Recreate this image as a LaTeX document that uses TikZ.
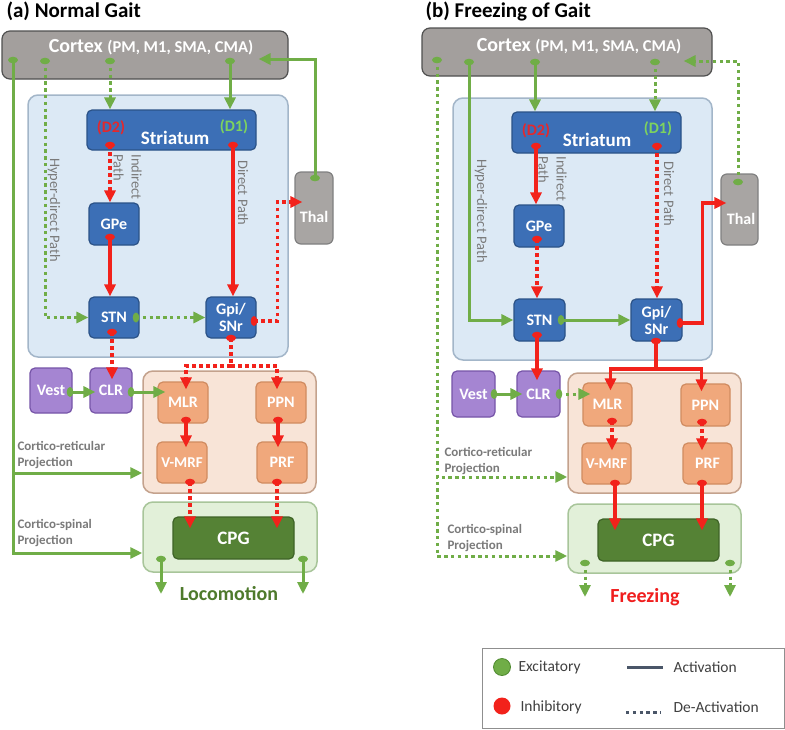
\documentclass[tikz,border=0pt]{standalone}
\usepackage{fontspec}
\setmainfont{Carlito}
\usetikzlibrary{arrows.meta,calc}
\definecolor{gcol}{HTML}{70AD47}
\definecolor{gdark}{HTML}{4F8A30}
\definecolor{rcol}{HTML}{F2221B}
\definecolor{bluefill}{HTML}{3C6FB6}
\definecolor{blueline}{HTML}{2B5287}
\definecolor{bgblue}{HTML}{DCE9F5}
\definecolor{bgblueline}{HTML}{A3B6C9}
\definecolor{ctxfill}{HTML}{A39F9D}
\definecolor{ctxline}{HTML}{505050}
\definecolor{thalfill}{HTML}{A8A5A3}
\definecolor{thalline}{HTML}{808080}
\definecolor{purfill}{HTML}{A585D2}
\definecolor{purline}{HTML}{7654A8}
\definecolor{retfill}{HTML}{F8E4D7}
\definecolor{retline}{HTML}{C4A28D}
\definecolor{orfill}{HTML}{F0A87C}
\definecolor{orline}{HTML}{D08B60}
\definecolor{spfill}{HTML}{E2F0D9}
\definecolor{spline}{HTML}{A8C59A}
\definecolor{cpgfill}{HTML}{558235}
\definecolor{cpgline}{HTML}{3E6327}
\definecolor{dgreen}{HTML}{7ED35E}
\definecolor{dred}{HTML}{E4282C}
\definecolor{loco}{HTML}{4E7A2C}
\definecolor{frz}{HTML}{F01E1E}
\definecolor{labgray}{HTML}{7A7A7A}
\definecolor{leggray}{HTML}{404040}
\definecolor{legline}{HTML}{4A5668}
\definecolor{legborder}{HTML}{8F8F8F}
\newcommand\mydotV[2]{\fill[#1] (#2) ellipse [x radius=5pt, y radius=3.3pt];}
\newcommand\mydotH[2]{\fill[#1] (#2) ellipse [x radius=3.3pt, y radius=5pt];}
\tikzset{
  sz/.style 2 args={minimum width=#1pt, minimum height=#2pt},
  box/.style={rounded corners=5pt, line width=1.2pt, inner sep=0pt, align=center, text=white,
    font=\fontsize{16}{17}\selectfont\bfseries},
  bnode/.style={box, fill=bluefill, draw=blueline},
  pnode/.style={box, fill=purfill, draw=purline},
  onode/.style={box, fill=orfill, draw=orline},
  cnode/.style={box, fill=cpgfill, draw=cpgline, font=\fontsize{19}{20}\selectfont\bfseries},
  gbox/.style={box, fill=ctxfill, draw=ctxline, rounded corners=8pt},
  thbox/.style={box, fill=thalfill, draw=thalline, rounded corners=6pt},
  region/.style={rounded corners=10pt, line width=1.5pt, inner sep=0pt},
  gS/.style={draw=gcol, line width=3pt},
  gD/.style={draw=gcol, line width=3pt, dash pattern=on 3.4pt off 3.4pt},
  rS/.style={draw=rcol, line width=3.4pt},
  rD/.style={draw=rcol, line width=3.4pt, dash pattern=on 3.6pt off 3.4pt},
  tip/.style={-{Triangle[length=12pt,width=11pt]}},
  intoby/.style={shorten >=-#1},
  pathlab/.style={text=labgray, font=\fontsize{14.5}{18}\selectfont, rotate=-90, align=left},
  projlab/.style={text=labgray, font=\fontsize{13}{16}\selectfont\bfseries, align=left, anchor=west},
  title/.style={font=\fontsize{21}{22}\selectfont\bfseries, anchor=base west},
  ctxtxt/.style={text=white, font=\fontsize{20}{21}\selectfont\bfseries},
  striatlab/.style={font=\fontsize{16}{17}\selectfont\bfseries},
  legtxt/.style={text=leggray, font=\fontsize{15.5}{17}\selectfont, anchor=west},
}
\begin{document}
\begin{tikzpicture}[x=1pt,y=-1pt]
\useasboundingbox (0,0) rectangle (785,729);
\fill[white] (0,0) rectangle (785,729);

% ================= (a) Normal Gait =================
\node[title] (titA) at (3,17) {(a) Normal Gait};
\node[region, fill=bgblue, draw=bgblueline, sz={260}{262}] (bgA) at (158,226) {};
\node[region, fill=retfill, draw=retline, sz={173}{122}] (retA) at (229.5,432) {};
\node[region, fill=spfill, draw=spline, sz={174}{70}] (spA) at (230,537) {};
\node[gbox, sz={286}{48}] (cortexA) at (145,55) {};
\node[ctxtxt] (ctxAtxt) at (151,47) {Cortex {\fontsize{16.5}{17}\selectfont (PM, M1, SMA, CMA)}};
\node[thbox, sz={38}{72}] (thalA) at (314,208) {};
\node[box, font=\fontsize{16}{17}\selectfont\bfseries] (thalAtxt) at (314,217) {Thal};
\node[bnode, sz={169}{40}] (striatumA) at (171.5,130) {};
\node[striatlab, text=dred] (d2A) at (111,128) {(D2)};
\node[striatlab, text=white, font=\fontsize{19}{20}\selectfont\bfseries] (strA) at (175,138) {Striatum};
\node[striatlab, text=dgreen] (d1A) at (234,127) {(D1)};
\node[bnode, sz={50}{42}] (gpeA) at (114,224) {GPe};
\node[bnode, sz={50}{41}] (stnA) at (114,317.5) {STN};
\node[bnode, sz={50}{41}] (gpiA) at (231,317.5) {Gpi/\\SNr};
\node[pnode, sz={42}{45}] (vestA) at (51,390.5) {Vest};
\node[pnode, sz={42}{45}] (clrA) at (111,390.5) {CLR};
\node[onode, sz={50}{41}] (mlrA) at (183,402.5) {MLR};
\node[onode, sz={50}{41}] (ppnA) at (281,402.5) {PPN};
\node[onode, sz={50}{41}, font=\fontsize{15}{16}\selectfont\bfseries] (vmrfA) at (182,462.5) {V-MRF};
\node[onode, sz={50}{41}] (prfA) at (282,462.5) {PRF};
\node[cnode, sz={121}{42}] (cpgA) at (233.5,538) {CPG};

\node[pathlab] (hypA) at (54,210) {Hyper-direct Path};
\node[pathlab] (indA) at (127.5,177) {Indirect\\Path};
\node[pathlab] (dirA) at (243,193) {Direct Path};
\node[projlab] (crA) at (14,455) {Cortico-reticular\\Projection};
\node[projlab] (csA) at (14,533) {Cortico-spinal\\Projection};
\node[text=loco, font=\fontsize{20}{21}\selectfont\bfseries] (locoA) at (229,594) {Locomotion};

\coordinate (cA1) at (13,60);
\coordinate (cA2) at (45,61);
\coordinate (cA3) at (110,61);
\coordinate (cA4) at (230,61);
\coordinate (sA1) at (110,145);
\coordinate (sA2) at (233,145);
\coordinate (gA) at (110,237);
\coordinate (tA1) at (136,317.5);
\coordinate (tA2) at (112,332);
\coordinate (pA1) at (254,321);
\coordinate (bA) at (231,338);
\coordinate (hA) at (315,178);
\coordinate (vA) at (70,392);
\coordinate (clA) at (131,392);
\coordinate (mA) at (186,420);
\coordinate (nA) at (278,420);
\coordinate (vmA) at (190,482);
\coordinate (prA) at (277,482);
\coordinate (oA1) at (161,559);
\coordinate (oA2) at (303,559);
\coordinate (eA1) at (161,594);
\coordinate (eA2) at (303,594);

\draw[gS, tip] (cA1) |- ([yshift=-41pt]retA.west);
\draw[gS, tip] (cA1) |- ([yshift=-16pt]spA.west);
\draw[gD, tip] (cA2) |- (stnA.west);
\draw[gD, tip] (cA3) -- (cA3 |- striatumA.north);
\draw[gS, tip] (cA4) -- (cA4 |- striatumA.north);
\draw[rD, tip] (sA1) -- (sA1 |- gpeA.north);
\draw[rS, tip] (sA2) -- (sA2 |- gpiA.north);
\draw[rS, tip] (gA) -- (gA |- stnA.north);
\draw[gD, tip] (tA1) -- (gpiA.west);
\draw[rD, tip, intoby=12pt] (tA2) -- (tA2 |- clrA.north);
\draw[rD, tip, intoby=8pt] (pA1) -| ([xshift=-17pt,yshift=6pt]thalA.west) -- ([yshift=6pt]thalA.west);
\draw[gS, tip] (hA) |- ([xshift=-30pt,yshift=-4pt]cortexA.east);
\draw[rD, tip, intoby=8pt] (bA) -- ++(0,28) -| ([xshift=3pt]mlrA.north);
\draw[rD, tip, intoby=8pt] (bA) -- ++(0,28) -| ([xshift=-4pt]ppnA.north);
\draw[gS, tip, intoby=6pt] (vA) -- (vA -| clrA.west);
\draw[gS, tip, intoby=8pt] (clA) -- (clA -| mlrA.west);
\draw[rS, tip, intoby=6pt] (mA) -- (mA |- vmrfA.north);
\draw[rS, tip, intoby=6pt] (nA) -- (nA |- prfA.north);
\draw[rD, tip, intoby=12pt] (vmA) -- (vmA |- cpgA.north);
\draw[rD, tip, intoby=12pt] (prA) -- (prA |- cpgA.north);
\draw[gS, tip] (oA1) -- (eA1);
\draw[gS, tip] (oA2) -- (eA2);

\mydotV{gcol}{cA1} \mydotV{gcol}{cA2} \mydotV{gcol}{cA3} \mydotV{gcol}{cA4}
\mydotV{rcol}{sA1} \mydotV{rcol}{sA2} \mydotV{rcol}{gA}
\mydotH{gcol}{tA1} \mydotV{rcol}{tA2} \mydotH{rcol}{pA1} \mydotV{rcol}{bA}
\mydotV{gcol}{hA} \mydotH{gcol}{vA} \mydotH{gcol}{clA}
\mydotV{rcol}{mA} \mydotV{rcol}{nA} \mydotV{rcol}{vmA} \mydotV{rcol}{prA}
\mydotV{gcol}{oA1} \mydotV{gcol}{oA2}

% ================= (b) Freezing of Gait =================
\node[title] (titB) at (422,17) {(b) Freezing of Gait};
\node[region, fill=bgblue, draw=bgblueline, sz={259}{262}] (bgB) at (582.5,229) {};
\node[region, fill=retfill, draw=retline, sz={173}{120}] (retB) at (654.5,433) {};
\node[region, fill=spfill, draw=spline, sz={173}{69}] (spB) at (654.5,538.5) {};
\node[gbox, sz={290}{48}] (cortexB) at (567,52) {};
\node[ctxtxt] (ctxBtxt) at (579,46) {Cortex {\fontsize{16.5}{17}\selectfont (PM, M1, SMA, CMA)}};
\node[thbox, sz={37}{71}] (thalB) at (739.5,209.5) {};
\node[box, font=\fontsize{16}{17}\selectfont\bfseries] (thalBtxt) at (741,219) {Thal};
\node[bnode, sz={169}{41}] (striatumB) at (596.5,132.5) {};
\node[striatlab, text=dred] (d2B) at (536,131) {(D2)};
\node[striatlab, text=white, font=\fontsize{19}{20}\selectfont\bfseries] (strB) at (597,140) {Striatum};
\node[striatlab, text=dgreen] (d1B) at (658,129) {(D1)};
\node[bnode, sz={50}{42}] (gpeB) at (539,226) {GPe};
\node[bnode, sz={51}{42}] (stnB) at (539.5,320) {STN};
\node[bnode, sz={51}{42}] (gpiB) at (656.5,320) {Gpi/\\SNr};
\node[pnode, sz={43}{46}] (vestB) at (473.5,394) {Vest};
\node[pnode, sz={43}{46}] (clrB) at (538.5,394) {CLR};
\node[onode, sz={49}{43}] (mlrB) at (607.5,404.5) {MLR};
\node[onode, sz={49}{42}] (ppnB) at (705.5,405) {PPN};
\node[onode, sz={49}{41}, font=\fontsize{15}{16}\selectfont\bfseries] (vmrfB) at (606.5,463.5) {V-MRF};
\node[onode, sz={49}{41}] (prfB) at (707.5,463.5) {PRF};
\node[cnode, sz={121}{42}] (cpgB) at (658.5,540) {CPG};

\node[pathlab] (hypB) at (481,211) {Hyper-direct Path};
\node[pathlab] (indB) at (552.5,179) {Indirect\\Path};
\node[pathlab] (dirB) at (669,194) {Direct Path};
\node[projlab] (crB) at (441,461) {Cortico-reticular\\Projection};
\node[projlab] (csB) at (444,538) {Cortico-spinal\\Projection};
\node[text=frz, font=\fontsize{20}{21}\selectfont\bfseries] (frzB) at (645,597) {Freezing};

\coordinate (cB1) at (437,60);
\coordinate (cB2) at (469,62);
\coordinate (cB3) at (535,62);
\coordinate (cB4) at (655,62);
\coordinate (sB1) at (536,146);
\coordinate (sB2) at (657,146);
\coordinate (gB) at (537,239);
\coordinate (tB1) at (561,320);
\coordinate (tB2) at (537,335);
\coordinate (pB1) at (680,323);
\coordinate (bB) at (656,341);
\coordinate (hB) at (738,182);
\coordinate (vB) at (494,394);
\coordinate (clB) at (559,394);
\coordinate (mB) at (612,421);
\coordinate (nB) at (702,422);
\coordinate (vmB) at (615,483);
\coordinate (prB) at (702,483);
\coordinate (oB1) at (585,563);
\coordinate (oB2) at (730,563);
\coordinate (eB1) at (585,597);
\coordinate (eB2) at (730,597);

\draw[gD, tip] (cB1) |- ([yshift=-44pt]retB.west);
\draw[gD, tip] (cB1) |- ([yshift=-17.5pt]spB.west);
\draw[gS, tip] (cB2) |- (stnB.west);
\draw[gS, tip] (cB3) -- (cB3 |- striatumB.north);
\draw[gD, tip] (cB4) -- (cB4 |- striatumB.north);
\draw[rS, tip] (sB1) -- (sB1 |- gpeB.north);
\draw[rD, tip] (sB2) -- (sB2 |- gpiB.north);
\draw[rD, tip] (gB) -- (gB |- stnB.north);
\draw[gS, tip] (tB1) -- (gpiB.west);
\draw[rS, tip, intoby=10pt] (tB2) -- (tB2 |- clrB.north);
\draw[rS, tip, intoby=6pt] (pB1) -| ([xshift=-18pt,yshift=6.5pt]thalB.west) -- ([yshift=6.5pt]thalB.west);
\draw[gD, tip] (hB) |- ([xshift=-29pt,yshift=-9pt]cortexB.east);
\draw[rS, tip, intoby=8pt] (bB) -- ++(0,28) -| ([xshift=3pt]mlrB.north);
\draw[rS, tip, intoby=8pt] (bB) -- ++(0,28) -| ([xshift=-4pt]ppnB.north);
\draw[gS, tip, intoby=6pt] (vB) -- (vB -| clrB.west);
\draw[gD, tip, intoby=8pt] (clB) -- (clB -| mlrB.west);
\draw[rD, tip, intoby=8pt] (mB) -- (mB |- vmrfB.north);
\draw[rD, tip, intoby=8pt] (nB) -- (nB |- prfB.north);
\draw[rS, tip, intoby=12pt] (vmB) -- (vmB |- cpgB.north);
\draw[rS, tip, intoby=12pt] (prB) -- (prB |- cpgB.north);
\draw[gD, tip] (oB1) -- (eB1);
\draw[gD, tip] (oB2) -- (eB2);

\mydotV{gcol}{cB1} \mydotV{gcol}{cB2} \mydotV{gcol}{cB3} \mydotV{gcol}{cB4}
\mydotV{rcol}{sB1} \mydotV{rcol}{sB2} \mydotV{rcol}{gB}
\mydotH{gcol}{tB1} \mydotV{rcol}{tB2} \mydotH{rcol}{pB1} \mydotV{rcol}{bB}
\mydotV{gcol}{hB} \mydotH{gcol}{vB} \mydotH{gcol}{clB}
\mydotV{rcol}{mB} \mydotV{rcol}{nB} \mydotV{rcol}{vmB} \mydotV{rcol}{prB}
\mydotV{gcol}{oB1} \mydotV{gcol}{oB2}

% ================= Legend =================
\node[draw=legborder, line width=1pt, sz={302}{80}, inner sep=0pt] (legend) at (633,688) {};
\node[circle, fill=gcol, draw=gdark, line width=0.8pt, minimum size=17pt, inner sep=0pt] (lgE) at (502,667) {};
\node[circle, fill=rcol, minimum size=17pt, inner sep=0pt] (lgI) at (502,706) {};
\node[legtxt] (lgEt) at (515,667) {Excitatory};
\node[legtxt] (lgIt) at (517,707) {Inhibitory};
\coordinate (la1) at (627,667);
\coordinate (la2) at (663,667);
\coordinate (ld1) at (626,712);
\coordinate (ld2) at (661,712);
\draw[legline, line width=3pt] (la1) -- (la2);
\draw[legline, line width=3pt, dash pattern=on 3.4pt off 3.4pt] (ld1) -- (ld2);
\node[legtxt] (lgAt) at (670,667) {Activation};
\node[legtxt] (lgDt) at (670,707) {De-Activation};
\end{tikzpicture}
\end{document}
